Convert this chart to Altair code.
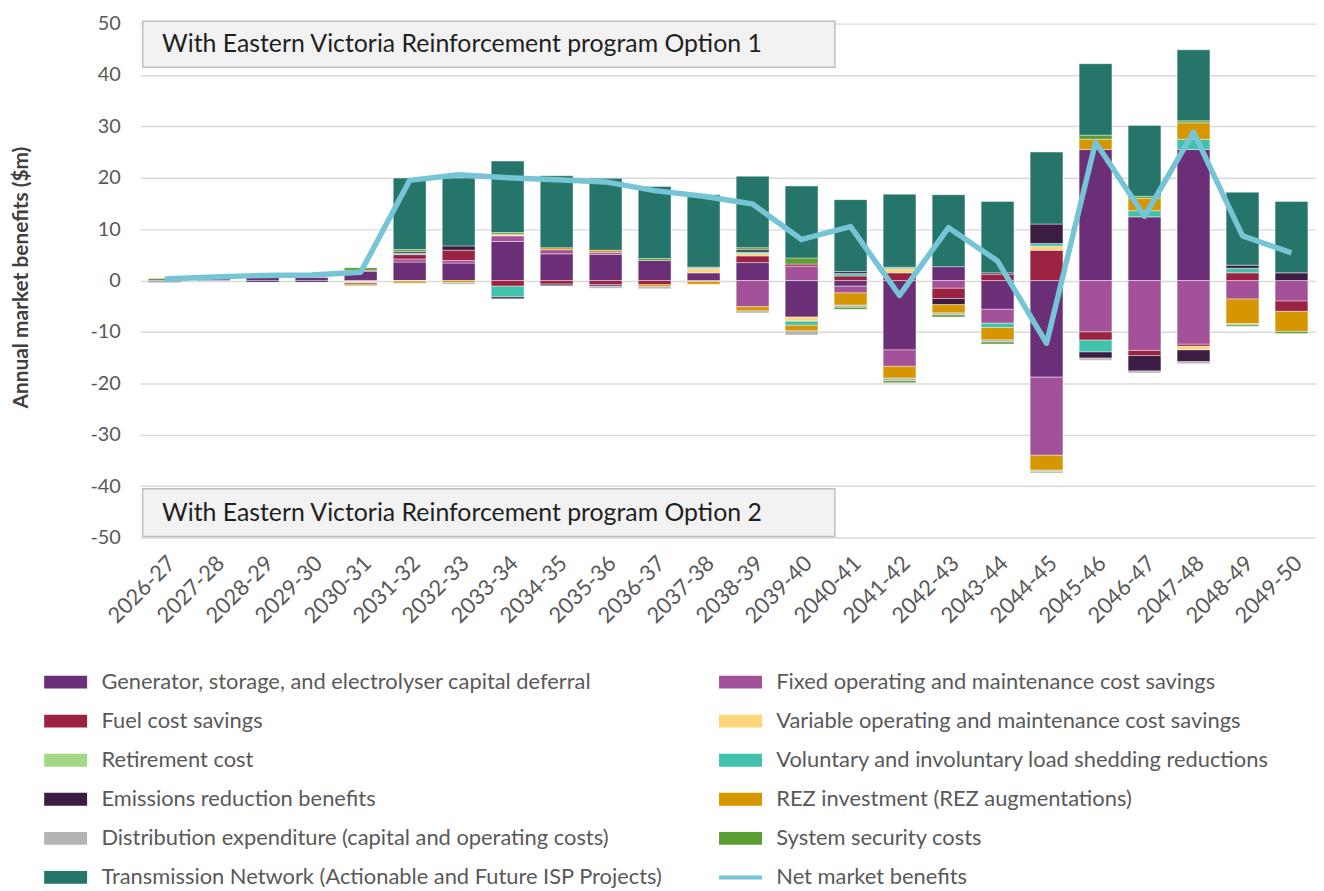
import altair as alt
import pandas as pd

years = ["2026-27", "2027-28", "2028-29", "2029-30", "2030-31", "2031-32", "2032-33",
         "2033-34", "2034-35", "2035-36", "2036-37", "2037-38", "2038-39", "2039-40",
         "2040-41", "2041-42", "2042-43", "2043-44", "2044-45", "2045-46", "2046-47",
         "2047-48", "2048-49", "2049-50"]

series_names = [
    "Generator, storage, and electrolyser capital deferral",
    "Fixed operating and maintenance cost savings",
    "Fuel cost savings",
    "Variable operating and maintenance cost savings",
    "Retirement cost",
    "Voluntary and involuntary load shedding reductions",
    "Emissions reduction benefits",
    "REZ investment (REZ augmentations)",
    "Distribution expenditure (capital and operating costs)",
    "System security costs",
    "Transmission Network (Actionable and Future ISP Projects)",
    "Net market benefits",
]

colors = ["#6B2F77", "#A35299", "#9B2242", "#FDD57A", "#A2D886", "#41C2AA",
          "#3E1D45", "#D69600", "#B3B3B3", "#5A9E34", "#25756A", "#76C5D6"]

generator = [-0.2, 0.3, 0.6, 0.6, 1.8, 3.6, 3.4, 7.6, 5.2, 5.1, 3.9, 1.5, 3.5, -7.1,
             -1.1, -13.5, 2.7, -5.6, -18.8, 25.5, 12.4, 25.5, 0.0, 0.0]
fixed_om = [0.0, 0.0, 0.0, 0.0, -0.2, 0.6, 0.5, 1.1, 0.8, 0.4, 0.0, -0.2, -5.1, 2.8,
            -1.3, -3.2, -1.5, -2.7, -15.2, -10.0, -13.6, -12.4, -3.6, -4.0]
fuel = [0.0, 0.0, 0.0, 0.0, 0.2, 0.85, 2.0, -1.1, -0.7, -0.8, -0.8, 0.0, 1.3, 0.4,
        0.9, 1.5, -2.0, 1.2, 5.9, -1.6, -1.0, -0.4, 1.5, -2.0]
variable_om = [0.0, 0.0, 0.0, 0.0, -0.3, -0.1, 0.0, 0.15, 0.0, 0.0, 0.0, 0.8, 0.45, -0.8,
               0.0, 0.8, 0.0, 0.0, 0.8, 0.0, 0.0, -0.7, 0.0, 0.0]
retirement = [0.0] * 24
load_shedding = [0.0, 0.0, 0.0, 0.0, 0.0, 0.3, 0.0, -2.1, 0.0, 0.0, 0.0, 0.0, 0.3, -0.8,
                 0.45, 0.3, 0.0, -0.85, 0.5, -2.3, 1.2, 2.0, 0.9, 0.0]
emissions = [-0.15, 0.0, -0.3, -0.3, -0.3, 0.3, 0.85, -0.35, -0.3, -0.3, 0.0, 0.0, 0.45, 0.0,
             0.4, 0.0, -1.2, 0.3, 3.8, -1.2, -3.0, -2.3, 0.6, 1.5]
rez = [0.0, 0.0, 0.0, 0.0, -0.2, -0.4, -0.4, 0.2, 0.4, 0.4, -0.4, -0.5, -0.8, -1.1,
       -2.4, -2.3, -1.6, -2.4, -2.9, 2.0, 2.4, 3.2, -4.8, -3.9]
distribution = [0.0, 0.0, 0.0, 0.0, 0.0, -0.1, -0.3, 0.0, 0.0, -0.4, -0.4, 0.3, -0.4, -0.8,
                -0.4, -0.5, -0.4, -0.4, -0.3, -0.4, -0.4, -0.4, -0.2, 0.0]
system_security = [0.4, 0.0, 0.0, 0.0, 0.5, 0.4, 0.0, 0.3, 0.0, 0.0, 0.4, 0.0, 0.4, 1.2,
                   -0.4, -0.4, -0.4, -0.4, -0.2, 0.8, 0.4, 0.4, -0.3, -0.4]
transmission = [0.0, 0.0, 0.0, 0.0, 0.0, 13.9, 13.2, 13.9, 14.0, 14.0, 14.0, 14.1, 13.9, 14.0,
                14.0, 14.2, 14.0, 13.9, 14.0, 13.9, 13.8, 13.8, 14.2, 13.9]
net_benefits = [0.3, 0.7, 1.0, 1.1, 1.6, 19.5, 20.6, 20.0, 19.6, 19.2, 17.5, 16.4, 14.9, 8.0,
                10.5, -2.9, 10.3, 3.8, -12.2, 26.9, 12.5, 28.9, 8.7, 5.4]

box_texts = ["With Eastern Victoria Reinforcement program Option 1",
             "With Eastern Victoria Reinforcement program Option 2"]
y_title = "Annual market benefits ($m)"

component_values = [generator, fixed_om, fuel, variable_om, retirement, load_shedding,
                    emissions, rez, distribution, system_security, transmission]

rows = []
for si, (name, vals) in enumerate(zip(series_names[:11], component_values)):
    for yr, v in zip(years, vals):
        if v != 0:
            rows.append({"year": yr, "series": name, "value": v, "order": si})
bars_df = pd.DataFrame(rows)
net_df = pd.DataFrame({"year": years, "series": series_names[11], "value": net_benefits})

FONT = "Lato"
W, H = 1183, 517

x_scale = alt.Scale(domain=years, paddingInner=0.33, paddingOuter=0.165)
y_scale = alt.Scale(domain=[-50, 50], nice=False)
color_scale = alt.Scale(domain=series_names, range=colors)

legend = alt.Legend(
    orient="none", legendX=-93, legendY=644.5, columns=2, direction="horizontal", title=None,
    symbolType={"expr": "datum.value === 'Net market benefits' ? 'M-1.2,-0.11H1.2V0.11H-1.2Z' : 'M-1.2,-0.36H1.2V0.36H-1.2Z'"},
    symbolSize=1296, symbolStrokeWidth=0, symbolOpacity=1,
    labelFont=FONT, labelFontSize=22, labelColor="#595959", labelLimit=800,
    labelOffset=18, rowPadding=10.3, columnPadding=56, padding=0,
)

x_axis = alt.Axis(title=None, labelAngle=-45, labelFont=FONT, labelFontSize=22,
                  labelColor="#595959", domain=False, ticks=False, grid=False,
                  labelPadding=15)
y_axis = alt.Axis(values=list(range(-50, 51, 10)), title=y_title, titleFont=FONT,
                  titleFontSize=21, titleFontWeight="bold", titleColor="#404040",
                  titleX=-119, titleY=255, titleAngle=270, titleAlign="center",
                  titleBaseline="middle", labelExpr="'' + datum.value",
                  labelFont=FONT, labelFontSize=20, labelColor="#595959",
                  domain=False, ticks=False, grid=True, gridColor="#D9D9D9",
                  gridWidth=1.5, labelPadding=20)

bars = alt.Chart(bars_df).mark_bar(stroke="white", strokeWidth=0.6, strokeOpacity=0.7).encode(
    x=alt.X("year:N", scale=x_scale, sort=years, axis=x_axis),
    y=alt.Y("value:Q", scale=y_scale, axis=y_axis, stack="zero"),
    color=alt.Color("series:N", scale=color_scale, legend=legend),
    order=alt.Order("order:Q", sort="ascending"),
)

line = alt.Chart(net_df).mark_line(strokeWidth=5.5, strokeJoin="round").encode(
    x=alt.X("year:N", scale=x_scale, sort=years),
    y=alt.Y("value:Q", scale=y_scale),
    color=alt.Color("series:N", scale=color_scale, legend=legend),
)

box_df1 = pd.DataFrame({"t": [box_texts[0]]})
box_df2 = pd.DataFrame({"t": [box_texts[1]]})

def box(df, y0, y1):
    r = alt.Chart(df).mark_rect(fill="#F2F2F2", stroke="#BFBFBF", strokeWidth=1.5).encode(
        x=alt.value(2.5), x2=alt.value(699), y=alt.value(y0), y2=alt.value(y1))
    t = alt.Chart(df).mark_text(align="left", baseline="middle", font=FONT, fontSize=25,
                                color="#1F1F1F").encode(
        x=alt.value(22), y=alt.value((y0 + y1) / 2), text="t:N")
    return r + t

chart = alt.layer(
    bars, line, box(box_df1, -2.5, 44), box(box_df2, 468, 516)
).properties(
    width=W, height=H,
    padding={"left": 133, "top": 13, "right": 0, "bottom": 362},
    autosize=alt.AutoSizeParams(type="none"),
).configure_view(stroke=None)

chart.save("out.html", embed_options={"renderer": "svg", "actions": False})
